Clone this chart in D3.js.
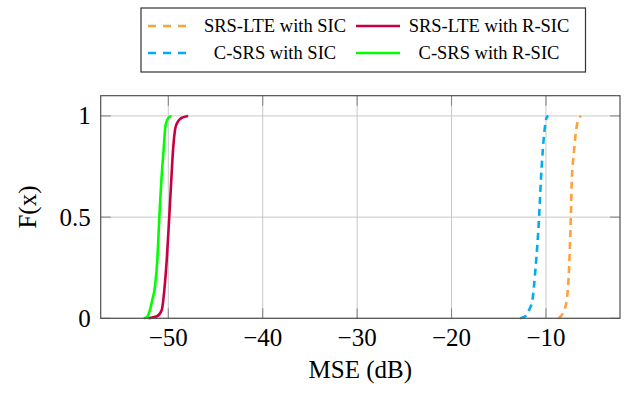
<!DOCTYPE html>
<html>

<head>
    <meta charset="utf-8">
    <script src="https://d3js.org/d3.v7.min.js"></script>
    <style>
        body { margin: 0; background: #fff; }
        text { font-family: "Liberation Serif", "Times New Roman", serif; fill: #000; }
    </style>
</head>

<body>
    <div id="viz"></div>

    <script>

        // curve data: MSE (dB) and F(x)
        var srsSicX  = [-8.69, -8.16, -7.8, -7.55, -7.37, -7.27, -7.02, -6.74, -6.31]
        var srsSicF  = [0, 0.03, 0.09, 0.25, 0.5, 0.67, 0.83, 0.95, 1]
        var srsRsicX = [-52.1, -51.2, -50.7, -50.4, -50.15, -49.9, -49.7, -49.5, -49.2, -48.6, -47.9]
        var srsRsicF = [0, 0.01, 0.04, 0.15, 0.3, 0.5, 0.67, 0.83, 0.95, 0.99, 1]
        var cSicX    = [-12.74, -12.2, -11.8, -11.44, -11.1, -10.73, -10.55, -10.34, -10.1, -9.95, -9.75]
        var cSicF    = [0, 0.01, 0.04, 0.09, 0.25, 0.5, 0.67, 0.83, 0.95, 0.99, 1]
        var cRsicX   = [-52.6, -52.2, -51.95, -51.7, -51.4, -51.15, -50.95, -50.75, -50.5, -50.3, -50.0, -49.65]
        var cRsicF   = [0, 0.01, 0.04, 0.09, 0.16, 0.3, 0.5, 0.67, 0.83, 0.95, 0.99, 1]

        var xTicks = [-50, -40, -30, -20, -10]
        var yTicks = [0, 0.5, 1]
        var yTickLabels = ["0", "0.5", "1"]

        var seriesNames = ["SRS-LTE with SIC", "SRS-LTE with R-SIC", "C-SRS with SIC", "C-SRS with R-SIC"]
        var seriesColors = ["#ffa040", "#c8003f", "#00aeef", "#00ff00"]
        var seriesDashed = [true, false, true, false]

        var series = [
            { x: srsSicX, f: srsSicF },
            { x: srsRsicX, f: srsRsicF },
            { x: cSicX, f: cSicF },
            { x: cRsicX, f: cRsicF }
        ]

        // plot box
        var margin = { top: 95.7, right: 10, bottom: 74.7, left: 100.7 },
            width = 630 - margin.left - margin.right,
            height = 393 - margin.top - margin.bottom;

        var root = d3.select("#viz")
            .append("svg")
            .attr("width", 630)
            .attr("height", 393)

        var svg = root.append("g")
            .attr("transform", "translate(" + margin.left + "," + margin.top + ")");

        var x = d3.scaleLinear()
            .domain([-57.16, -2.16])
            .range([0, width]);

        var y = d3.scaleLinear()
            .domain([0, 1.1])
            .range([height, 0]);

        // grid lines
        svg.append("g")
            .selectAll("line.gx")
            .data(xTicks)
            .enter()
            .append("line")
            .attr("x1", function (d) { return x(d) })
            .attr("x2", function (d) { return x(d) })
            .attr("y1", 0)
            .attr("y2", height)
            .attr("stroke", "#c8c8c8")
            .attr("stroke-width", 1)

        svg.append("g")
            .selectAll("line.gy")
            .data(yTicks)
            .enter()
            .append("line")
            .attr("x1", 0)
            .attr("x2", width)
            .attr("y1", function (d) { return y(d) })
            .attr("y2", function (d) { return y(d) })
            .attr("stroke", "#c8c8c8")
            .attr("stroke-width", 1)

        // inner tick marks on all four sides
        var tickLen = 10
        var tk = svg.append("g").attr("stroke", "#808080").attr("stroke-width", 1)
        xTicks.forEach(function (d) {
            tk.append("line").attr("x1", x(d)).attr("x2", x(d)).attr("y1", height).attr("y2", height - tickLen)
            tk.append("line").attr("x1", x(d)).attr("x2", x(d)).attr("y1", 0).attr("y2", tickLen)
        })
        yTicks.forEach(function (d) {
            tk.append("line").attr("x1", 0).attr("x2", tickLen).attr("y1", y(d)).attr("y2", y(d))
            tk.append("line").attr("x1", width).attr("x2", width - tickLen).attr("y1", y(d)).attr("y2", y(d))
        })

        // curves
        var line = d3.line()
            .x(function (d) { return x(d[0]) })
            .y(function (d) { return y(d[1]) })
            .curve(d3.curveMonotoneX)

        series.forEach(function (s, i) {
            var pts = s.x.map(function (v, j) { return [v, s.f[j]] })
            svg.append("path")
                .datum(pts)
                .attr("d", line)
                .attr("fill", "none")
                .attr("stroke", seriesColors[i])
                .attr("stroke-width", 2.6)
                .attr("stroke-dasharray", seriesDashed[i] ? "7,5" : null)
        })

        // frame
        svg.append("rect")
            .attr("x", 0)
            .attr("y", 0)
            .attr("width", width)
            .attr("height", height)
            .attr("fill", "none")
            .attr("stroke", "#505050")
            .attr("stroke-width", 1.2)

        // tick labels
        svg.append("g")
            .selectAll("text")
            .data(xTicks)
            .enter()
            .append("text")
            .attr("x", function (d) { return x(d) })
            .attr("y", height + 28)
            .attr("text-anchor", "middle")
            .style("font-size", "25px")
            .text(function (d) { return "\u2212" + Math.abs(d) })

        svg.append("g")
            .selectAll("text")
            .data(yTicks)
            .enter()
            .append("text")
            .attr("x", -10)
            .attr("y", function (d) { return y(d) + 8.5 })
            .attr("text-anchor", "end")
            .style("font-size", "25px")
            .text(function (d, i) { return yTickLabels[i] })

        // axis labels
        svg.append("text")
            .attr("x", width / 2)
            .attr("y", height + 60)
            .attr("text-anchor", "middle")
            .style("font-size", "25px")
            .text("MSE (dB)")

        svg.append("text")
            .attr("transform", "translate(" + (-65) + "," + (height / 2) + ") rotate(-90)")
            .attr("text-anchor", "middle")
            .style("font-size", "25px")
            .text("F(x)")

        // legend
        var legend = root.append("g")
        legend.append("rect")
            .attr("x", 141)
            .attr("y", 8)
            .attr("width", 444.5)
            .attr("height", 64)
            .attr("fill", "#fff")
            .attr("stroke", "#333")
            .attr("stroke-width", 1.2)

        var colX = [[148, 190, 275], [356, 400, 489]]
        var rowY = [26, 53]
        seriesNames.forEach(function (name, i) {
            var c = colX[i % 2], r = rowY[Math.floor(i / 2)]
            legend.append("line")
                .attr("x1", c[0]).attr("x2", c[1])
                .attr("y1", r).attr("y2", r)
                .attr("stroke", seriesColors[i])
                .attr("stroke-width", 2.6)
                .attr("stroke-dasharray", seriesDashed[i] ? "8,7" : null)
            legend.append("text")
                .attr("x", c[2])
                .attr("y", r + 6)
                .attr("text-anchor", "middle")
                .style("font-size", "18.5px")
                .text(name)
        })

    </script>
</body>

</html>
